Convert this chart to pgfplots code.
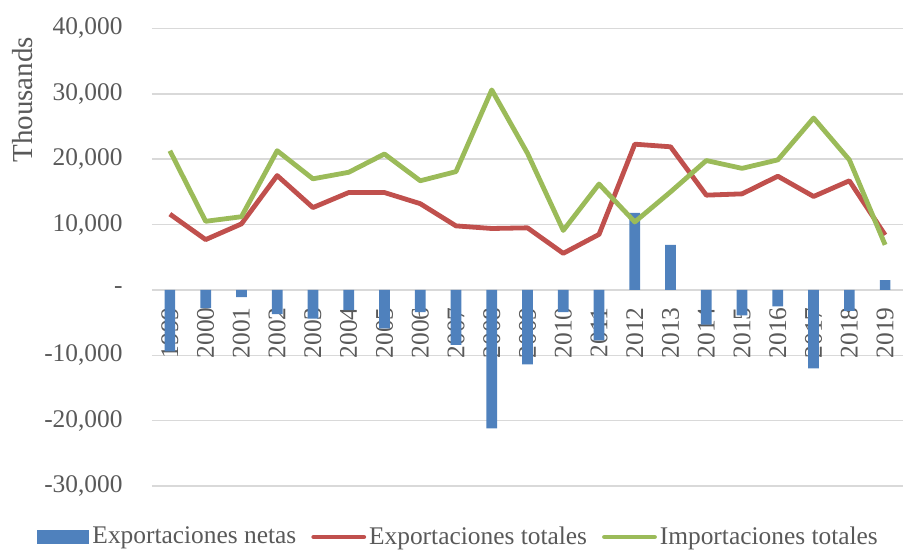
\documentclass[border=0pt]{standalone}
\usepackage{pgfplots}
\pgfplotsset{compat=1.18}
\usepackage{pgfplotstable}
\usepackage{fontspec}
\setmainfont{Liberation Serif}
\definecolor{netblue}{HTML}{4F81BD}
\definecolor{exred}{HTML}{C0504D}
\definecolor{imgreen}{HTML}{9BBB59}
\definecolor{txtgray}{HTML}{595959}
\definecolor{gridgray}{HTML}{D9D9D9}

\pgfplotstableread{
year net exp imp
1999 -9400 11600 21300
2000 -2800 7700 10500
2001 -1100 10100 11200
2002 -3700 17500 21300
2003 -4400 12600 17000
2004 -3100 14900 18000
2005 -5900 14900 20800
2006 -3400 13200 16700
2007 -8400 9800 18100
2008 -21200 9400 30600
2009 -11400 9500 20900
2010 -3400 5600 9100
2011 -7700 8500 16200
2012 11800 22300 10400
2013 6900 21900 15000
2014 -5300 14500 19800
2015 -3900 14700 18600
2016 -2500 17400 19900
2017 -12000 14300 26300
2018 -3200 16700 19900
2019 1500 8400 6900
}\datatable

\begin{document}
\begin{tikzpicture}
\begin{axis}[
  scale only axis,
  width=375.5pt, height=228.75pt,
  xmin=1998.5, xmax=2019.5,
  ymin=-30000, ymax=40000,
  scaled y ticks=false,
  axis x line*=middle,
  axis y line*=left,
  x axis line style={draw=gridgray, line width=0.75pt, -},
  y axis line style={draw=none},
  major tick length=0pt,
  xtick={1999,...,2019},
  xticklabels={1999,2000,2001,2002,2003,2004,2005,2006,2007,2008,2009,2010,2011,2012,2013,2014,2015,2016,2017,2018,2019},
  ytick={-30000,-20000,-10000,0,10000,20000,30000,40000},
  yticklabels={{-30,000},{-20,000},{-10,000},{-},{10,000},{20,000},{30,000},{40,000}},
  ymajorgrids,
  grid style={draw=gridgray, line width=0.75pt},
  tick label style={font=\fontsize{12.7}{15}\selectfont, text=txtgray},
  yticklabel style={anchor=east, inner sep=0pt, xshift=-14.5pt},
  xticklabel style={yshift=-8.5pt, rotate=90, anchor=east, inner sep=0pt},
  ylabel={Thousands},
  ylabel style={at={(axis description cs:-0.172,0.844)}, anchor=center, font=\fontsize{14.5}{17}\selectfont, text=txtgray},
  legend columns=3,
  legend style={draw=none, fill=none, inner sep=0pt, outer sep=0pt, anchor=center, at={(0.409,-0.1115)},
    font=\fontsize{12.7}{15}\selectfont, text=txtgray,
    nodes={inner sep=1.5pt},
    /tikz/every even column/.append style={column sep=6pt}},
]
\addplot[ybar, bar width=0.3, fill=netblue, draw=none,
  legend image code/.code={\fill[netblue] (0pt,-3.5pt) rectangle (26pt,3.5pt);}]
  table[x=year, y=net] {\datatable};
\addlegendentry{Exportaciones netas}
\addplot[exred, line width=2.4pt, line join=round,
  legend image code/.code={\draw[exred, line width=2.4pt, line cap=round] (1pt,0pt) -- (26pt,0pt);}]
  table[x=year, y=exp] {\datatable};
\addlegendentry{Exportaciones totales}
\addplot[imgreen, line width=2.4pt, line join=round,
  legend image code/.code={\draw[imgreen, line width=2.4pt, line cap=round] (1pt,0pt) -- (26pt,0pt);}]
  table[x=year, y=imp] {\datatable};
\addlegendentry{Importaciones totales}
\end{axis}
\pgfresetboundingbox
\path[use as bounding box] ([shift={(-76pt,-32pt)}]current axis.south west) rectangle ([shift={(0pt,14.25pt)}]current axis.north east);
\end{tikzpicture}
\end{document}
